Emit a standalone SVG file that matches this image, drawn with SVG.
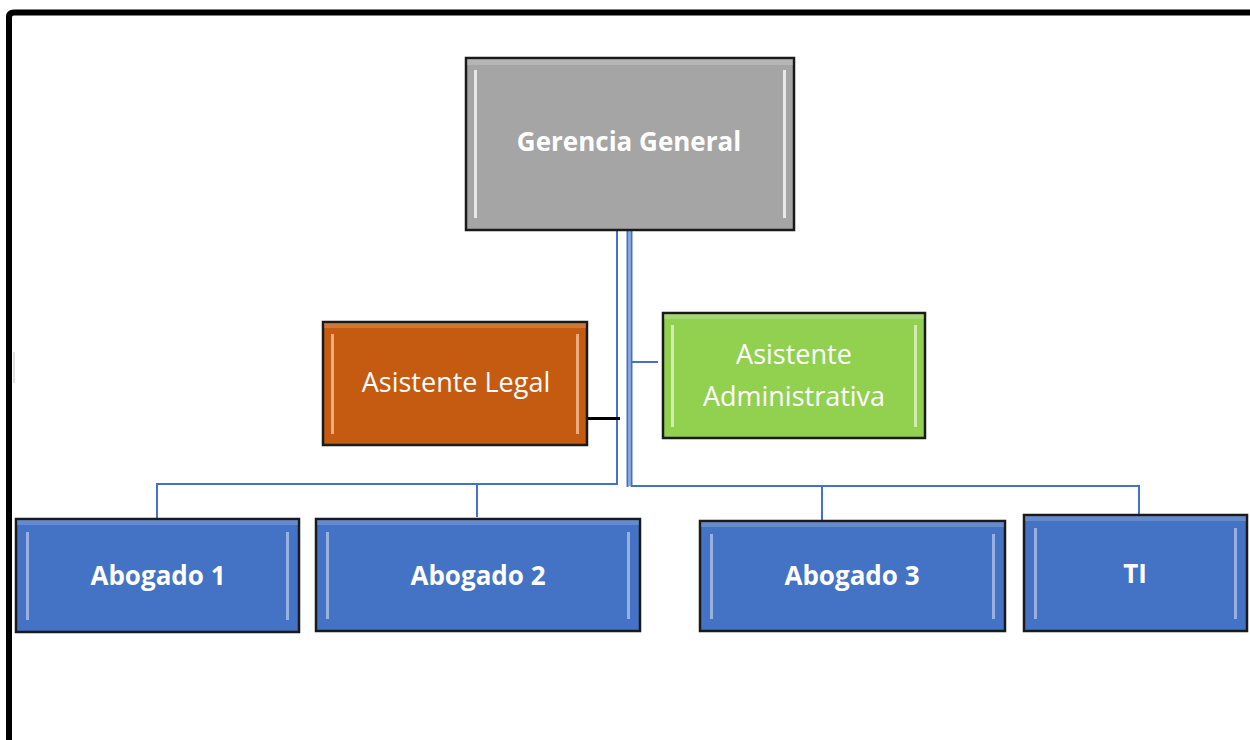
<svg xmlns="http://www.w3.org/2000/svg" width="1250" height="740" viewBox="0 0 1250 740">
<defs>
<style>
.box{stroke:#1a1a1a;stroke-width:2.5}
.hl{fill:#ffffff;opacity:0.75}
.hlt{fill:#ffffff;opacity:0.18}
.t{font-family:"Open Sans","Liberation Sans",sans-serif;fill:#ffffff;text-anchor:middle}
.b{font-weight:bold}
.c{fill:none;stroke:#4472C4;stroke-width:2}
.cl{fill:none;stroke:#8faadc;stroke-width:2}
</style>
</defs>
<rect x="0" y="0" width="1250" height="740" fill="#ffffff"/>
<path d="M9,740 V17 Q9,12.5 14,12.5 H1250" fill="none" stroke="#000" stroke-width="6"/>
<rect x="13" y="352" width="2" height="31" fill="#e0e0e0"/>
<g id="connectors">
<path class="c" d="M617,231 V484 H157 V519"/>
<path class="c" d="M477,484 V517"/>
<path class="cl" d="M629.5,231 V486"/>
<path class="c" d="M627.5,231 V487 M631.5,231 V486 H1139 V515"/>
<path class="c" d="M822,486 V520"/>
<path class="c" d="M631,362 H658"/>
<path d="M587,418.5 H620" fill="none" stroke="#000" stroke-width="3"/>
</g>
<g id="gerencia">
<rect class="box" x="466" y="58" width="328" height="172" fill="#A5A5A5"/>
<rect class="hlt" x="467" y="59" width="326" height="6"/>
<rect class="hl" x="474" y="70" width="3" height="148"/>
<rect class="hl" x="783" y="70" width="3" height="148"/>
<text class="t b" x="629" y="151" font-size="26">Gerencia General</text>
</g>
<g id="asistente-legal">
<rect class="box" x="323" y="322" width="264" height="123" fill="#C55A11"/>
<rect class="hlt" x="324" y="323" width="262" height="5"/>
<rect class="hl" x="331" y="334" width="3" height="100" style="fill:#f7c9a3"/>
<rect class="hl" x="576" y="334" width="3" height="100" style="fill:#f7c9a3"/>
<text class="t" x="456" y="392" font-size="27">Asistente Legal</text>
</g>
<g id="asistente-administrativa">
<rect class="box" x="663" y="313" width="262" height="125" fill="#92D050"/>
<rect class="hlt" x="664" y="314" width="260" height="5"/>
<rect class="hl" x="671" y="325" width="3" height="102" style="fill:#e4f5d0"/>
<rect class="hl" x="914" y="325" width="3" height="102" style="fill:#e4f5d0"/>
<text class="t" x="794" y="364" font-size="27">Asistente</text>
<text class="t" x="794" y="406" font-size="27">Administrativa</text>
</g>
<g id="abogado-1">
<rect class="box" x="16" y="519" width="283" height="113" fill="#4472C4"/>
<rect class="hlt" x="17" y="520" width="281" height="5"/>
<rect class="hl" x="26" y="532" width="3" height="88" style="fill:#b4c7e7"/>
<rect class="hl" x="286" y="532" width="3" height="88" style="fill:#b4c7e7"/>
<text class="t b" x="158" y="585" font-size="26">Abogado 1</text>
</g>
<g id="abogado-2">
<rect class="box" x="316" y="519" width="324" height="112" fill="#4472C4"/>
<rect class="hlt" x="317" y="520" width="322" height="5"/>
<rect class="hl" x="326" y="532" width="3" height="87" style="fill:#b4c7e7"/>
<rect class="hl" x="627" y="532" width="3" height="87" style="fill:#b4c7e7"/>
<text class="t b" x="478" y="585" font-size="26">Abogado 2</text>
</g>
<g id="abogado-3">
<rect class="box" x="700" y="521" width="305" height="110" fill="#4472C4"/>
<rect class="hlt" x="701" y="522" width="303" height="5"/>
<rect class="hl" x="710" y="534" width="3" height="85" style="fill:#b4c7e7"/>
<rect class="hl" x="992" y="534" width="3" height="85" style="fill:#b4c7e7"/>
<text class="t b" x="852" y="585" font-size="26">Abogado 3</text>
</g>
<g id="ti">
<rect class="box" x="1024" y="515" width="223" height="116" fill="#4472C4"/>
<rect class="hlt" x="1025" y="516" width="221" height="5"/>
<rect class="hl" x="1034" y="528" width="3" height="91" style="fill:#b4c7e7"/>
<rect class="hl" x="1234" y="528" width="3" height="91" style="fill:#b4c7e7"/>
<text class="t b" x="1135" y="583" font-size="26">TI</text>
</g>
</svg>
